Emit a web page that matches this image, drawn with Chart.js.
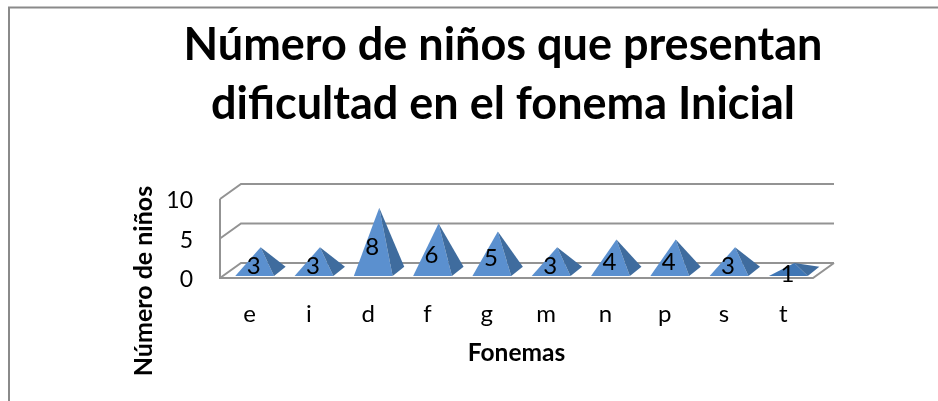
<!DOCTYPE html>
<html><head><meta charset="utf-8">
<style>html,body{margin:0;padding:0;background:#fff}canvas{display:block}</style>
<script src="https://cdn.jsdelivr.net/npm/chart.js@4"></script>
</head><body>
<div style="width:938px;height:401px;position:relative"><canvas id="c"></canvas></div>
<script>
const categories = ['e','i','d','f','g','m','n','p','s','t'];
const values = [3,3,8,6,5,3,4,4,3,1];
const yTicks = [0,5,10];
const titleLines = ['Número de niños que presentan','dificultad en el fonema Inicial'];
const xTitle = 'Fonemas';
const yTitle = 'Número de niños';

const FONT = 'Lato, Carlito, sans-serif';
const GRID = '#939393';
const DEPTH = {x:21, y:-15};

const scene = {
  id:'scene',
  beforeDraw(chart){
    const c = chart.ctx, {x:xs, y:ys} = chart.scales, a = chart.chartArea;
    c.save();
    c.fillStyle='#fff'; c.fillRect(0,0,chart.width,chart.height);
    c.strokeStyle='#8a8a8a'; c.lineWidth=2;
    c.beginPath(); c.moveTo(9,chart.height); c.lineTo(9,7.5); c.lineTo(chart.width,7.5); c.stroke();
    c.strokeStyle=GRID; c.lineWidth=2;
    c.beginPath();
    ys.ticks.forEach(t=>{
      const y=ys.getPixelForValue(t.value);
      c.moveTo(a.left,y); c.lineTo(a.left+DEPTH.x,y+DEPTH.y); c.lineTo(a.right+DEPTH.x,y+DEPTH.y);
    });
    const y0=ys.getPixelForValue(0), yT=ys.getPixelForValue(ys.max);
    c.moveTo(a.left,yT); c.lineTo(a.left,y0); c.lineTo(a.right,y0); c.lineTo(a.right+DEPTH.x,y0+DEPTH.y);
    c.stroke();
    c.restore();
  },
  beforeDatasetDraw(chart,args){
    const c = chart.ctx, ys = chart.scales.y, y0 = ys.getPixelForValue(0);
    c.save();
    args.meta.data.forEach((b,i)=>{
      const cx=b.x+5, half=19.4, front=y0-2, backX=cx+half+11.6, backY=front-9.3;
      const ax=cx+6, ay=b.y-7;
      const lx=cx-half, rx=cx+half;
      c.fillStyle= values[i]<=1 ? '#3f76b5' : '#5b90cf';
      c.beginPath(); c.moveTo(lx,front); c.lineTo(rx,front); c.lineTo(ax,ay); c.closePath(); c.fill();
      c.fillStyle='#3f6c9e';
      c.beginPath(); c.moveTo(rx,front); c.lineTo(backX,backY); c.lineTo(ax,ay); c.closePath(); c.fill();
    });
    c.restore();
    return false;
  },
  afterDatasetsDraw(chart){
    const c = chart.ctx, ys = chart.scales.y, meta = chart.getDatasetMeta(0);
    c.save();
    c.fillStyle='#000'; c.font='24px '+FONT; c.textAlign='center'; c.textBaseline='middle';
    meta.data.forEach((b,i)=>{
      c.fillText(String(values[i]), b.x+4, ys.getPixelForValue(values[i]/2)+0.5);
    });
    c.restore();
  },
  afterDraw(chart){
    const c = chart.ctx;
    c.save();
    c.translate(144,281); c.rotate(-Math.PI/2);
    c.fillStyle='#000'; c.font='bold 25px '+FONT; c.textAlign='center'; c.textBaseline='middle';
    c.fillText(yTitle,0,0);
    c.restore();
  }
};

new Chart(document.getElementById('c'),{
  type:'bar',
  data:{labels:categories,datasets:[{data:values,backgroundColor:'#5b90cf',borderWidth:0,categoryPercentage:0.65,barPercentage:1}]},
  plugins:[scene],
  options:{
    responsive:true,maintainAspectRatio:false,animation:false,
    layout:{padding:{left:133,right:65,top:15,bottom:33}},
    plugins:{
      legend:{display:false},tooltip:{enabled:false},
      title:{display:true,text:titleLines,color:'#000',font:{family:FONT,size:45,weight:'bold',lineHeight:1.333},padding:{top:0,bottom:64}}
    },
    scales:{
      x:{
        afterFit(s){s.height=90;},
        grid:{display:false},border:{display:false},
        ticks:{color:'#000',font:{family:FONT,size:24},padding:14,maxRotation:0},
        title:{display:true,text:xTitle,color:'#000',font:{family:FONT,size:24.5,weight:'bold'},padding:{top:0,bottom:0}}
      },
      y:{
        afterFit(s){s.width=87;},
        min:0,max:10,
        afterBuildTicks(s){s.ticks=yTicks.map(v=>({value:v}));},
        grid:{display:false},border:{display:false},
        ticks:{color:'#000',font:{family:FONT,size:23},padding:19,labelOffset:2}
      },
      spacer:{
        position:'right',display:true,afterFit(s){s.width=60;},
        grid:{display:false},border:{display:false},ticks:{display:false}
      }
    }
  }
});
</script>
</body></html>
